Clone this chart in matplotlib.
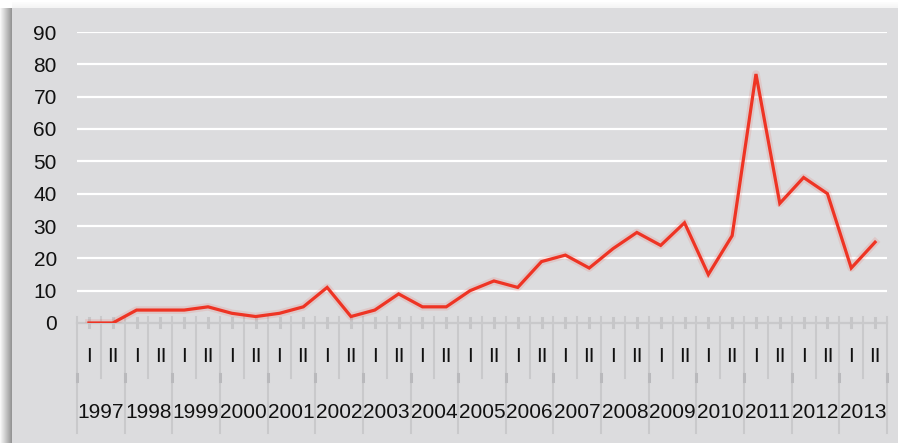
import matplotlib
matplotlib.use('Agg')
import matplotlib.pyplot as plt
import matplotlib.patheffects as pe
from matplotlib.patches import Rectangle
import matplotlib.transforms as mtransforms

plt.rcParams['font.family'] = ['Liberation Sans', 'DejaVu Sans']

# half-year values
years = ['1997', '1998', '1999', '2000', '2001', '2002', '2003', '2004', '2005',
         '2006', '2007', '2008', '2009', '2010', '2011', '2012', '2013']
halves = ['I', 'II']
values = [0, 0, 4, 4, 4, 5, 3, 2, 3, 5, 11, 2, 4, 9, 5, 5, 10, 13,
          11, 19, 21, 17, 23, 28, 24, 31, 15, 27, 77, 37, 45, 40, 17, 25]
yticks = [0, 10, 20, 30, 40, 50, 60, 70, 80, 90]

W, H = 898, 443
fig = plt.figure(figsize=(W / 100, H / 100), dpi=100)
fig.patch.set_facecolor('white')

# grey panel with a soft shadow on the left / top
for k in range(12):
    a = 0.03 + 0.035 * k
    fig.patches.append(Rectangle((k / W, 0), 1 / W, (H - 8) / H, transform=fig.transFigure,
                                 facecolor='black', alpha=a, edgecolor='none', zorder=-10))
for k in range(6):
    fig.patches.append(Rectangle((12 / W, (H - 8 + k) / H), 1, 1 / H, transform=fig.transFigure,
                                 facecolor='black', alpha=0.04 - 0.006 * k, edgecolor='none', zorder=-10))
fig.patches.append(Rectangle((12 / W, 0), 1, (H - 8) / H, transform=fig.transFigure,
                             facecolor='#dcdcde', edgecolor='none', zorder=-9))

x0, x1, ytop, ybot = 77, 887, 32, 323
ax = fig.add_axes([x0 / W, (H - ybot) / H, (x1 - x0) / W, (ybot - ytop) / H])
ax.set_zorder(5)
ax.set_facecolor('none')
for s in ax.spines.values():
    s.set_visible(False)

n = len(values)
xs = list(range(n))
ax.set_xlim(-0.5, n - 0.5)
ax.set_ylim(0, 90)

for yv in yticks[1:]:
    ax.axhline(yv, color='white', lw=1.6, zorder=1)

ax.plot(xs, values, color='#ee3424', lw=2.3, zorder=3, solid_joinstyle='miter',
        path_effects=[pe.Stroke(linewidth=5.5, foreground='#ee3424', alpha=0.12, joinstyle='round'),
                      pe.Normal()])

fs = 15
ax.set_yticks(yticks)
ax.set_yticklabels([str(v) for v in yticks], fontsize=fs, color='#111111')
ax.tick_params(axis='y', length=0, pad=14.5)
ax.set_xticks([])

# two-level category axis drawn below the plot
ah = ybot - ytop
def fy(py):
    return (ybot - py) / ah

tr = mtransforms.blended_transform_factory(ax.transData, ax.transAxes)
grey = '#c9c9cb'
ax.plot([-0.5, n - 0.5], [0, 0], color=grey, lw=1.6, transform=tr, clip_on=False, zorder=2)
for i in range(n):
    ax.plot([i, i], [fy(318), fy(327)], color='#c6c6c8', lw=2.2, transform=tr, clip_on=False, zorder=2)
    ax.text(i, fy(356), halves[i % 2], transform=tr, ha='center', va='center',
            fontsize=fs, color='#111111')
for b in range(n + 1):
    yend = 433 if b % 2 == 0 else 378
    ax.plot([b - 0.5, b - 0.5], [fy(317), fy(yend)], color=grey, lw=1.5,
            transform=tr, clip_on=False, zorder=2)
    if b % 2 == 0:
        ax.plot([b - 0.5, b - 0.5], [fy(374), fy(381)], color='#b9b9bc', lw=2.2,
                transform=tr, clip_on=False, zorder=2)
for j, yr in enumerate(years):
    ax.text(2 * j + 0.5, fy(412), yr, transform=tr, ha='center', va='center',
            fontsize=fs, color='#111111')

fig.savefig('out.png', dpi=100)
